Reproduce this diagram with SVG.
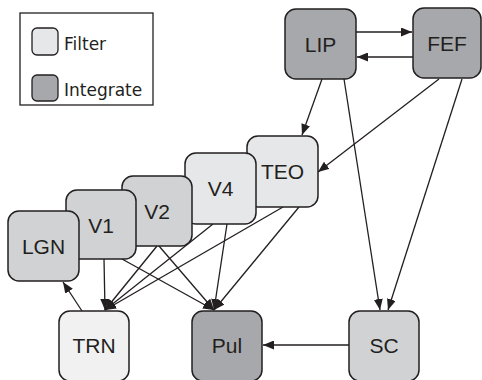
<svg xmlns="http://www.w3.org/2000/svg" width="482" height="380" viewBox="0 0 482 380">
<style>
.node rect{stroke:#231f20;stroke-width:1.5}
.lbl{font-family:"Liberation Sans","DejaVu Sans",sans-serif;font-size:21px;fill:#231f20;text-anchor:middle}
.leg{font-family:"DejaVu Sans","Liberation Sans",sans-serif;font-size:17px;fill:#231f20}
.integ{fill:#a7a8ab}
.filt{fill:#e6e7e8}
.mid{fill:#d1d2d4}
.pale{fill:#f1f1f2}
#connectors line{stroke:#231f20;stroke-width:1.3;fill:none}
</style>
<defs>
<marker id="ah" markerUnits="userSpaceOnUse" markerWidth="11" markerHeight="9" refX="11" refY="4.5" orient="auto">
<path d="M0,0 L11,4.5 L0,9 z" fill="#231f20"/>
</marker>
</defs>
<rect width="482" height="380" fill="#ffffff"/>
<g id="legend">
<rect x="20" y="13" width="133" height="92" fill="#ffffff" stroke="#231f20" stroke-width="1.3"/>
<rect x="32" y="28" width="26" height="27" rx="5" class="filt" stroke="#231f20" stroke-width="1.3"/>
<text x="64" y="50" class="leg">Filter</text>
<rect x="32" y="75" width="26" height="26" rx="5" class="integ" stroke="#231f20" stroke-width="1.3"/>
<text x="64" y="96" class="leg">Integrate</text>
</g>
<g id="connectors">
<line x1="356" y1="32" x2="412" y2="32" marker-end="url(#ah)"/>
<line x1="413" y1="57" x2="357" y2="57" marker-end="url(#ah)"/>
<line x1="322" y1="79" x2="302" y2="135" marker-end="url(#ah)"/>
<line x1="439" y1="79" x2="318" y2="172" marker-end="url(#ah)"/>
<line x1="344" y1="79" x2="380" y2="310" marker-end="url(#ah)"/>
<line x1="462" y1="79" x2="388" y2="310" marker-end="url(#ah)"/>
<line x1="104" y1="259" x2="105" y2="310" marker-end="url(#ah)"/>
<line x1="157" y1="246" x2="105" y2="310" marker-end="url(#ah)"/>
<line x1="213" y1="224" x2="105" y2="310" marker-end="url(#ah)"/>
<line x1="283" y1="207" x2="105" y2="310" marker-end="url(#ah)"/>
<line x1="122" y1="259" x2="214" y2="310" marker-end="url(#ah)"/>
<line x1="159" y1="246" x2="214" y2="310" marker-end="url(#ah)"/>
<line x1="227" y1="224" x2="214" y2="310" marker-end="url(#ah)"/>
<line x1="299" y1="207" x2="214" y2="310" marker-end="url(#ah)"/>
<line x1="82" y1="311" x2="63" y2="282" marker-end="url(#ah)"/>
<line x1="349" y1="345" x2="263" y2="345" marker-end="url(#ah)"/>
</g>
<g id="LIP" class="node"><rect x="285" y="9" width="71" height="70" rx="11" class="integ"/><text x="320.5" y="52" class="lbl">LIP</text></g>
<g id="FEF" class="node"><rect x="413" y="8" width="68" height="70" rx="11" class="integ"/><text x="447" y="51" class="lbl">FEF</text></g>
<g id="TEO" class="node"><rect x="247" y="136" width="71" height="71" rx="11" class="filt"/><text x="282.5" y="179" class="lbl">TEO</text></g>
<g id="V4" class="node"><rect x="185" y="153" width="71" height="71" rx="11" class="filt"/><text x="220.5" y="196" class="lbl">V4</text></g>
<g id="V2" class="node"><rect x="122" y="176" width="70" height="70" rx="11" class="mid"/><text x="157" y="219" class="lbl">V2</text></g>
<g id="V1" class="node"><rect x="66" y="190" width="70" height="69" rx="11" class="mid"/><text x="101" y="233" class="lbl">V1</text></g>
<g id="LGN" class="node"><rect x="8" y="211" width="71" height="70" rx="11" class="mid"/><text x="43.5" y="254" class="lbl">LGN</text></g>
<g id="TRN" class="node"><rect x="59" y="311" width="70" height="70" rx="11" class="pale"/><text x="94" y="353" class="lbl">TRN</text></g>
<g id="Pul" class="node"><rect x="192" y="311" width="70" height="70" rx="11" class="integ"/><text x="227" y="353" class="lbl">Pul</text></g>
<g id="SC" class="node"><rect x="349" y="311" width="70" height="70" rx="11" class="mid"/><text x="384" y="353" class="lbl">SC</text></g>
</svg>
